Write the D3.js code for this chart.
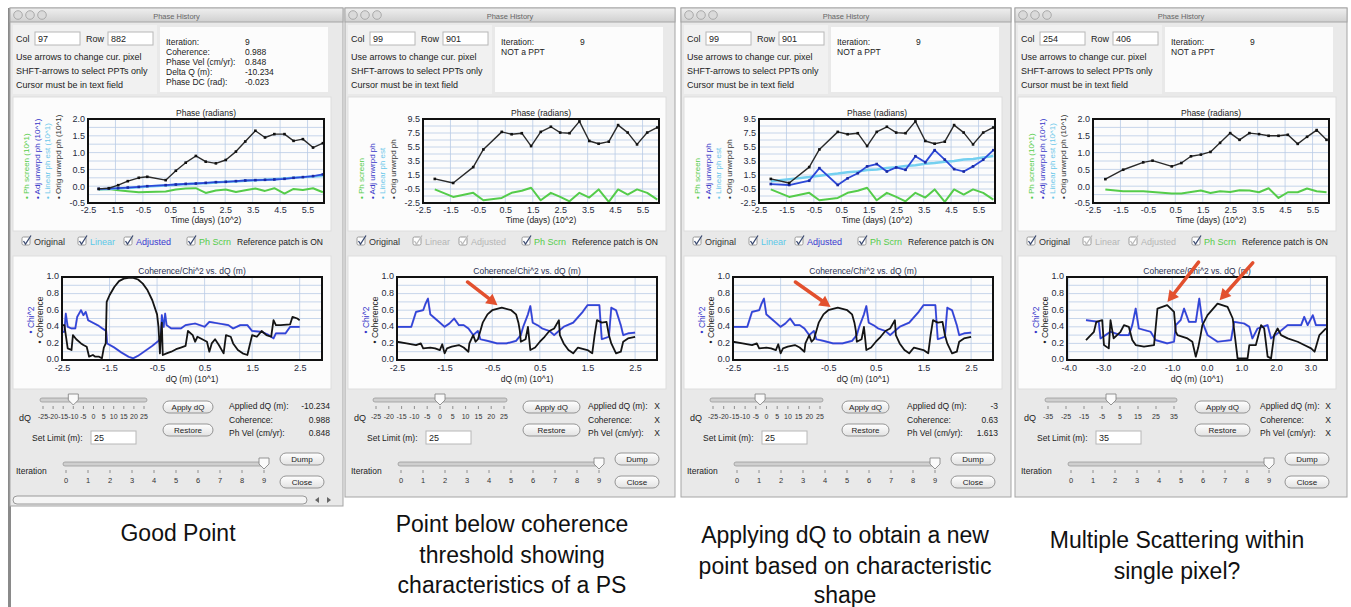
<!DOCTYPE html>
<html><head><meta charset="utf-8">
<script src="https://cdn.jsdelivr.net/npm/d3@7"></script>
<style>body{margin:0;background:#fff;} svg{display:block;} text{font-family:"Liberation Sans",Arial,sans-serif;}</style>
</head><body><svg id="c" width="1351" height="607"></svg>
<script>
// ---------------- DATA ----------------
// Phase history, panel 1 (Col 97 Row 882), time in 10^2 days
const time1 = [-2.11,-1.74,-1.40,-1.05,-0.65,-0.34,0.33,0.70,1.06,1.43,1.79,2.16,2.52,2.89,3.23,3.60,3.95,4.29,4.66,4.99,5.33,5.70,6.06];
const orig1 = [-0.08,-0.06,0.03,0.15,0.25,0.28,0.18,0.46,0.70,0.90,0.73,0.68,0.78,1.03,1.33,1.65,1.45,1.55,1.55,1.35,1.40,1.15,1.28];
const adj1  = [-0.08,-0.07,-0.06,-0.04,-0.02,0.00,0.03,0.05,0.07,0.08,0.10,0.12,0.13,0.15,0.17,0.18,0.19,0.20,0.22,0.25,0.27,0.30,0.35];
const lin1  = [-0.09,-0.08,-0.06,-0.05,-0.03,-0.01,0.02,0.04,0.06,0.08,0.09,0.11,0.13,0.14,0.16,0.18,0.19,0.21,0.23,0.25,0.27,0.29,0.32];
const scrn1 = [-0.10,-0.08,-0.12,-0.15,-0.18,-0.17,-0.16,-0.10,-0.07,-0.06,-0.20,-0.13,-0.10,-0.17,-0.12,-0.07,-0.14,-0.06,-0.22,-0.08,-0.11,-0.06,-0.18];
// Panels 2 and 3 (Col 99 Row 901)
const time2 = [-2.07,-1.40,-0.67,-0.30,0.37,0.73,1.10,1.44,1.79,2.16,2.50,2.84,3.20,3.56,3.90,4.27,4.61,4.96,5.30,5.67,6.04];
const orig2 = [0.94,0.36,2.63,5.15,7.66,7.32,7.47,5.63,7.66,8.39,7.56,7.47,9.16,6.36,5.97,6.26,8.63,7.56,5.87,7.56,8.29];
const scrn2 = [-0.56,-1.63,-1.05,-2.11,-1.77,-1.05,-0.76,-0.32,-2.11,-1.05,-1.63,-2.26,-1.05,-1.72,-0.56,-2.35,-0.56,-1.29,-0.56,-1.05,-2.01];
const adj3  = [0.21,0.07,0.69,2.48,0.07,1.03,1.76,2.73,3.07,2.00,2.58,2.24,4.18,3.31,5.05,3.69,2.34,2.00,2.73,3.69,5.05];
const lin3  = [0.6,0.9,1.2,1.4,1.7,1.9,2.0,2.2,2.3,2.5,2.6,2.8,2.9,3.1,3.2,3.4,3.5,3.7,3.8,4.0,4.2];
// Panel 4 (Col 254 Row 406)
const time4 = [-2.05,-1.40,-0.67,-0.33,0.37,0.72,1.07,1.43,1.78,2.13,2.50,2.84,3.20,3.55,3.90,4.26,4.60,4.96,5.30,5.65,6.01];
const orig4 = [0.21,0.49,0.71,0.76,0.59,0.69,0.89,0.94,1.02,1.29,1.58,1.38,1.58,1.55,1.50,1.50,1.53,1.26,1.47,1.67,1.38];
const scrn4 = [-0.10,-0.15,-0.15,-0.17,-0.22,-0.22,-0.17,-0.13,-0.20,-0.15,-0.17,-0.12,-0.13,-0.18,-0.06,-0.35,-0.18,-0.18,-0.07,-0.15,-0.18];

// Coherence / Chi^2 vs dQ  [dQ (10^1 m), value]
const coh1 = [[-2.5,0.42],[-2.45,0.42],[-2.42,0.3],[-2.38,0.14],[-2.3,0.12],[-2.27,0.3],[-2.2,0.25],[-2.1,0.2],[-2.05,0.18],[-1.98,0.16],[-1.93,0.04],[-1.85,0.06],[-1.8,0.04],[-1.72,0.04],[-1.66,0.02],[-1.62,0.15],[-1.58,0.2],[-1.56,0.7],[-1.5,0.78],[-1.4,0.88],[-1.3,0.95],[-1.2,0.98],[-1.1,0.99],[-1.0,0.99],[-0.9,0.97],[-0.8,0.92],[-0.7,0.84],[-0.6,0.72],[-0.5,0.55],[-0.47,0.4],[-0.44,0.08],[-0.42,0.3],[-0.4,0.45],[-0.38,0.06],[-0.3,0.08],[-0.2,0.1],[-0.1,0.13],[0.0,0.15],[0.1,0.17],[0.15,0.35],[0.25,0.3],[0.3,0.22],[0.35,0.28],[0.45,0.25],[0.55,0.22],[0.6,0.1],[0.65,0.2],[0.72,0.25],[0.8,0.18],[0.9,0.08],[0.95,0.3],[1.05,0.28],[1.1,0.2],[1.2,0.12],[1.3,0.08],[1.4,0.06],[1.45,0.18],[1.5,0.3],[1.6,0.28],[1.7,0.35],[1.8,0.3],[1.9,0.28],[1.95,0.48],[2.0,0.42],[2.1,0.42],[2.3,0.43],[2.35,0.52],[2.45,0.5],[2.5,0.48]];
const chi1 = [[-2.5,0.34],[-2.45,0.34],[-2.42,0.56],[-2.38,0.4],[-2.3,0.38],[-2.22,0.38],[-2.18,0.52],[-2.1,0.6],[-2.05,0.54],[-2.0,0.58],[-1.95,0.48],[-1.85,0.45],[-1.75,0.42],[-1.65,0.38],[-1.57,0.35],[-1.55,0.2],[-1.4,0.15],[-1.25,0.09],[-1.1,0.04],[-1.0,0.02],[-0.9,0.05],[-0.75,0.11],[-0.6,0.17],[-0.47,0.23],[-0.42,0.28],[-0.4,0.54],[-0.36,0.4],[-0.33,0.56],[-0.3,0.42],[-0.2,0.38],[0.0,0.38],[0.1,0.42],[0.3,0.44],[0.5,0.4],[0.6,0.46],[0.8,0.44],[1.0,0.42],[1.1,0.38],[1.25,0.42],[1.4,0.42],[1.5,0.35],[1.7,0.34],[1.85,0.3],[1.95,0.26],[2.0,0.32],[2.2,0.32],[2.3,0.4],[2.5,0.4]];
const coh2 = [[-2.5,0.22],[-2.3,0.2],[-2.1,0.18],[-2.0,0.2],[-1.95,0.14],[-1.8,0.15],[-1.7,0.14],[-1.6,0.12],[-1.55,0.19],[-1.5,0.08],[-1.45,0.14],[-1.35,0.16],[-1.2,0.18],[-1.1,0.15],[-1.0,0.1],[-0.98,0.2],[-0.9,0.3],[-0.85,0.22],[-0.8,0.25],[-0.75,0.35],[-0.7,0.45],[-0.6,0.55],[-0.5,0.6],[-0.3,0.63],[-0.1,0.6],[0.0,0.55],[0.05,0.45],[0.08,0.35],[0.1,0.22],[0.2,0.25],[0.25,0.4],[0.3,0.12],[0.4,0.15],[0.5,0.22],[0.6,0.28],[0.7,0.35],[0.8,0.38],[0.9,0.48],[0.92,0.3],[1.0,0.2],[1.1,0.12],[1.2,0.08],[1.3,0.15],[1.5,0.12],[1.6,0.08],[1.65,0.3],[1.7,0.48],[1.8,0.45],[1.9,0.46],[1.95,0.3],[2.0,0.2],[2.1,0.08],[2.2,0.1],[2.25,0.22],[2.35,0.26],[2.5,0.28]];
const chi2 = [[-2.5,0.4],[-2.2,0.4],[-2.1,0.58],[-1.95,0.6],[-1.9,0.68],[-1.85,0.74],[-1.8,0.55],[-1.7,0.5],[-1.6,0.45],[-1.5,0.4],[-1.4,0.44],[-1.3,0.5],[-1.2,0.42],[-1.1,0.42],[-1.0,0.38],[-0.9,0.3],[-0.8,0.35],[-0.75,0.25],[-0.6,0.23],[-0.4,0.2],[-0.2,0.2],[0.0,0.23],[0.1,0.3],[0.15,0.4],[0.25,0.55],[0.3,0.65],[0.35,0.45],[0.45,0.42],[0.55,0.38],[0.7,0.35],[0.8,0.3],[0.9,0.35],[1.0,0.4],[1.2,0.45],[1.4,0.58],[1.5,0.66],[1.75,0.66],[1.8,0.25],[1.95,0.28],[2.0,0.63],[2.1,0.6],[2.2,0.42],[2.25,0.3],[2.35,0.32],[2.5,0.33]];
const coh4 = [[-3.5,0.24],[-3.27,0.34],[-3.2,0.46],[-3.03,0.48],[-2.98,0.18],[-2.84,0.14],[-2.79,0.48],[-2.7,0.26],[-2.6,0.3],[-2.5,0.34],[-2.4,0.42],[-2.26,0.4],[-2.16,0.24],[-2.06,0.18],[-1.82,0.16],[-1.53,0.18],[-1.43,0.62],[-1.15,0.66],[-0.95,0.58],[-0.9,0.34],[-0.85,0.3],[-0.56,0.26],[-0.42,0.22],[-0.32,0.04],[-0.25,0.15],[-0.18,0.3],[-0.13,0.42],[0.02,0.54],[0.31,0.68],[0.6,0.64],[0.75,0.5],[0.82,0.26],[0.89,0.02],[1.18,0.02],[1.23,0.18],[1.42,0.18],[1.57,0.42],[1.66,0.38],[1.76,0.04],[1.86,0.02],[1.95,0.3],[2.05,0.38],[2.15,0.3],[2.34,0.26],[2.63,0.22],[2.82,0.18],[3.02,0.14],[3.12,0.1],[3.26,0.3],[3.45,0.38]];
const chi4 = [[-3.5,0.48],[-3.13,0.46],[-3.08,0.26],[-2.79,0.34],[-2.5,0.3],[-2.26,0.3],[-2.16,0.42],[-2.06,0.62],[-1.97,0.38],[-1.63,0.34],[-1.48,0.24],[-1.15,0.2],[-0.95,0.22],[-0.9,0.42],[-0.76,0.48],[-0.66,0.62],[-0.52,0.46],[-0.32,0.46],[-0.22,0.74],[-0.13,0.46],[0.02,0.3],[0.31,0.22],[0.7,0.24],[0.79,0.46],[1.08,0.44],[1.23,0.4],[1.32,0.26],[1.47,0.38],[1.76,0.42],[1.86,0.26],[2.05,0.32],[2.34,0.42],[2.73,0.42],[2.82,0.52],[2.92,0.42],[3.07,0.54],[3.16,0.42],[3.45,0.42]];

// Tick labels
const timeTicks = [-2.5,-1.5,-0.5,0.5,1.5,2.5,3.5,4.5,5.5];
const phaseTicksSmall = [-0.5,0.0,0.5,1.0,1.5,2.0];
const phaseTicksLarge = [-2.5,-0.5,1.5,3.5,5.5,7.5,9.5];
const cohTicks = [0.0,0.2,0.4,0.6,0.8,1.0];
const dqTicks25 = [-2.5,-1.5,-0.5,0.5,1.5,2.5];
const dqTicks40 = [-4.0,-3.0,-2.0,-1.0,0.0,1.0,2.0,3.0];
const sliderTicks25 = [-25,-20,-15,-10,-5,0,5,10,15,20,25];
const sliderTicks35 = [-35,-25,-15,-5,5,15,25,35];
const iterTicks = [0,1,2,3,4,5,6,7,8,9];

// ---------------- DRAW ----------------
const svg = d3.select('#c');
const defs = svg.append('defs');
function grad(id, c1, c2){const g=defs.append('linearGradient').attr('id',id).attr('x1',0).attr('y1',0).attr('x2',0).attr('y2',1);
 g.append('stop').attr('offset','0%').attr('stop-color',c1); g.append('stop').attr('offset','100%').attr('stop-color',c2);}
grad('tb','#efefef','#d0d0d0'); grad('btn','#ffffff','#e2e2e2');

const C = {black:'#2a2a2a', blue:'#2c48d8', lblue:'#74d0f0', green:'#55cc4a', pink:'#c77ad6', red:'#e2502e', gray:'#b5b5b5'};
function txt(g,x,y,s,o={}){return g.append('text').attr('x',x).attr('y',y).text(s).attr('font-size',o.size||9)
 .attr('fill',o.fill||'#222').attr('text-anchor',o.anchor||'start').attr('font-weight',o.weight||'normal');}
const fmt1 = d => d.toFixed(1);

const panels = [
 {L:10, W:333, H:498, col:'97', row:'882',
  info:[['Iteration:','9'],['Coherence:','0.988'],['Phase Vel (cm/yr):','0.848'],['Delta Q (m):','-10.234'],['Phase DC (rad):','-0.023']],
  pDom:[-0.5,2.0], pTicks:phaseTicksSmall, suffix:' (10^1)',
  series:[{t:time1,v:scrn1,c:C.green,w:2},{t:time1,v:lin1,c:C.lblue,w:2.5},{t:time1,v:adj1,c:C.blue,w:1.8,dots:1},{t:time1,v:orig1,c:C.black,w:1.4,dots:1}],
  enabled:[1,1,1,1], cDom:[-2.5,2.97], cTicks:dqTicks25, coh:coh1, chi:chi1, arrows:[],
  sl:{x0:30,w:107,ticks:sliderTicks25,val:-10}, btnX:153, btnW:50, iLX:219, iRX:320,
  vals:['-10.234','0.988','0.848'], limit:'25', scroll:true,
  caption:['Good Point'], capX:178, capY:[533]},
 {L:345, W:330, H:489, col:'99', row:'901', info:[['Iteration:','9'],['NOT a PPT','']],
  pDom:[-2.5,9.5], pTicks:phaseTicksLarge, suffix:'',
  series:[{t:time2,v:scrn2,c:C.green,w:2},{t:time2,v:orig2,c:C.black,w:1.4,dots:1}],
  enabled:[1,0,0,1], cDom:[-2.5,2.96], cTicks:dqTicks25, coh:coh2, chi:chi2,
  arrows:[[-1.02,0.94,-0.39,0.66]],
  sl:{x0:28,w:134,ticks:sliderTicks25,val:0}, btnX:178, btnW:57, iLX:243, iRX:315,
  vals:['X','X','X'], limit:'25',
  caption:['Point below coherence','threshold showing','characteristics of a PS'], capX:512, capY:[524,555,585]},
 {L:681, W:330, H:489, col:'99', row:'901', info:[['Iteration:','9'],['NOT a PPT','']],
  pDom:[-2.5,9.5], pTicks:phaseTicksLarge, suffix:'',
  series:[{t:time2,v:scrn2,c:C.green,w:2},{t:time2,v:lin3,c:C.lblue,w:2.5},{t:time2,v:adj3,c:C.blue,w:1.8,dots:1},{t:time2,v:orig2,c:C.black,w:1.4,dots:1}],
  enabled:[1,1,1,1], cDom:[-2.5,2.96], cTicks:dqTicks25, coh:coh2, chi:chi2,
  arrows:[[-1.19,0.94,-0.45,0.64]],
  sl:{x0:29,w:113,ticks:sliderTicks25,val:-3}, btnX:161, btnW:47, iLX:226, iRX:317,
  vals:['-3','0.63','1.613'], limit:'25',
  caption:['Applying dQ to obtain a new','point based on characteristic','shape'], capX:845, capY:[535,566,595]},
 {L:1015, W:332, H:489, col:'254', row:'406', info:[['Iteration:','9'],['NOT a PPT','']],
  pDom:[-0.5,2.0], pTicks:phaseTicksSmall, suffix:' (10^1)',
  series:[{t:time4,v:scrn4,c:C.green,w:2},{t:time4,v:orig4,c:C.black,w:1.4,dots:1}],
  enabled:[1,0,0,1], cDom:[-4.05,3.48], cTicks:dqTicks40, coh:coh4, chi:chi4,
  arrows:[[-0.24,1.18,-1.14,0.70],[1.33,1.17,0.37,0.72]],
  sl:{x0:30,w:132,ticks:sliderTicks35,val:0}, btnX:180, btnW:55, iLX:245, iRX:316,
  vals:['X','X','X'], limit:'35',
  caption:['Multiple Scattering within','single pixel?'], capX:1177, capY:[540,571]}
];

// left dark edge
svg.append('rect').attr('x',8).attr('y',8).attr('width',3).attr('height',599).attr('fill','#8a8a8a');

function midGrid(t){const g=[];t.forEach((v,i)=>{g.push(v);if(i<t.length-1)g.push((v+t[i+1])/2);});return g;}

function button(g,x,y,w,h,label){
 g.append('rect').attr('x',x).attr('y',y).attr('width',w).attr('height',h).attr('rx',6).attr('fill','url(#btn)').attr('stroke','#8a8a8a').attr('stroke-width',0.9);
 txt(g,x+w/2,y+h/2+3,label,{anchor:'middle',size:8});
}
function inputBox(g,x,y,w,h,val){
 g.append('rect').attr('x',x).attr('y',y).attr('width',w).attr('height',h).attr('fill','#fff').attr('stroke','#b8b8b8');
 txt(g,x+3,y+h-3.5,val);
}
function slider(g,x0,w,y,ticks,val,labelSize){
 g.append('rect').attr('x',x0).attr('y',y-2).attr('width',w).attr('height',4).attr('rx',2).attr('fill','#cfcfcf').attr('stroke','#9a9a9a').attr('stroke-width',0.8);
 const s=d3.scaleLinear().domain([ticks[0],ticks[ticks.length-1]]).range([x0+3,x0+w-3]);
 g.selectAll(null).data(ticks).join('line').attr('x1',d=>s(d)).attr('x2',d=>s(d)).attr('y1',y+6).attr('y2',y+9).attr('stroke','#777').attr('stroke-width',0.8);
 g.selectAll(null).data(ticks).join('text').attr('x',d=>s(d)).attr('y',y+19).attr('text-anchor','middle').attr('font-size',labelSize).attr('fill','#333').text(d=>d);
 const cx=s(val);
 g.append('path').attr('d',`M${cx-5},${y-6}h10v6l-5,5l-5,-5z`).attr('fill','#fafafa').attr('stroke','#888').attr('stroke-width',0.9);
}
function checkbox(g,x,y,label,color){
 g.append('rect').attr('x',x).attr('y',y).attr('width',8).attr('height',8).attr('rx',1.5).attr('fill','#fff').attr('stroke','#9a9a9a');
 g.append('path').attr('d',`M${x+1.5},${y+4}L${x+3.5},${y+7}L${x+9},${y-1.5}`).attr('fill','none').attr('stroke', color===C.gray?'#bbb':'#3a4a70').attr('stroke-width',1.3);
 txt(g,x+12,y+8,label,{fill:color});
}

panels.forEach((p,idx)=>{
 const L=p.L, g=svg.append('g');
 // window
 g.append('rect').attr('x',L).attr('y',8).attr('width',p.W).attr('height',p.H).attr('fill','#e9e9e9').attr('stroke','#a5a5a5');
 g.append('rect').attr('x',L).attr('y',8).attr('width',p.W).attr('height',14).attr('fill','url(#tb)').attr('stroke','#a5a5a5');
 [8,20,32].forEach(dx=>g.append('circle').attr('cx',L+dx).attr('cy',15).attr('r',4.3).attr('fill','#dadada').attr('stroke','#9d9d9d').attr('stroke-width',0.8));
 txt(g,L+p.W/2,18.5,'Phase History',{anchor:'middle',size:7.5,fill:'#666'});
 // top area
 g.append('rect').attr('x',L+3).attr('y',25).attr('width',144).attr('height',69).attr('fill','#f1f1f1');
 txt(g,L+6,42,'Col'); inputBox(g,L+25,32,45,13,p.col);
 txt(g,L+76,42,'Row'); inputBox(g,L+98,32,45,13,p.row);
 txt(g,L+6,60,'Use arrows to change cur. pixel');
 txt(g,L+6,74,'SHFT-arrows to select PPTs only');
 txt(g,L+6,88,'Cursor must be in text field');
 g.append('rect').attr('x',L+150).attr('y',27).attr('width',168).attr('height',65).attr('fill','#fcfcfc');
 p.info.forEach((r,i)=>{txt(g,L+156,45+i*10,r[0],{size:8.5}); txt(g,L+235,45+i*10,r[1],{size:8.5});});

 // ---- phase chart
 g.append('rect').attr('x',L+3).attr('y',97).attr('width',318).attr('height',134).attr('fill','#fcfcfc').attr('stroke','#dedede');
 const px0=L+78, px1=L+314, py0=119, py1=203;
 const x=d3.scaleLinear().domain([-2.5,6.1]).range([px0,px1]);
 const y=d3.scaleLinear().domain(p.pDom).range([py1,py0]);
 g.selectAll(null).data(midGrid(p.pTicks)).join('line').attr('x1',px0).attr('x2',px1).attr('y1',d=>y(d)).attr('y2',d=>y(d)).attr('stroke','#b9cbe6').attr('stroke-width',0.8);
 g.selectAll(null).data(timeTicks).join('line').attr('x1',d=>x(d)).attr('x2',d=>x(d)).attr('y1',py0).attr('y2',py1).attr('stroke','#b9cbe6').attr('stroke-width',0.8);
 defs.append('clipPath').attr('id','pc'+idx).append('rect').attr('x',px0).attr('y',py0).attr('width',px1-px0).attr('height',py1-py0);
 const pg=g.append('g').attr('clip-path',`url(#pc${idx})`);
 const ln=d3.line().x(d=>x(d[0])).y(d=>y(d[1]));
 p.series.forEach(s=>{
  const pts=d3.zip(s.t,s.v);
  pg.append('path').attr('d',ln(pts)).attr('fill','none').attr('stroke',s.c).attr('stroke-width',s.w).attr('stroke-linejoin','round');
  if(s.dots) pg.selectAll(null).data(pts).join('rect').attr('x',d=>x(d[0])-1.3).attr('y',d=>y(d[1])-1.3).attr('width',2.6).attr('height',2.6).attr('fill',s.c===C.black?'#111':'#1a2aa0');
 });
 g.append('rect').attr('x',px0).attr('y',py0).attr('width',px1-px0).attr('height',py1-py0).attr('fill','none').attr('stroke','#111').attr('stroke-width',2);
 const xa=g.append('g').attr('transform',`translate(0,${py1})`).call(d3.axisBottom(x).tickValues(timeTicks).tickSize(0).tickPadding(4).tickFormat(fmt1));
 const ya=g.append('g').attr('transform',`translate(${px0},0)`).call(d3.axisLeft(y).tickValues(p.pTicks).tickSize(0).tickPadding(3).tickFormat(fmt1));
 [xa,ya].forEach(a=>{a.select('.domain').remove(); a.attr('font-size',9).attr('font-family','Liberation Sans, Arial, sans-serif'); a.selectAll('text').attr('fill','#262a40');});
 txt(g,(px0+px1)/2,116,'Phase (radians)',{anchor:'middle',size:8.5});
 txt(g,(px0+px1)/2,223,'Time (days) (10^2)',{anchor:'middle',size:8.5});
 const legs=[['• Ph screen',C.green],['• Adj unwrpd ph','#3535c8'],['• Linear ph est','#6cc8ea'],['• Orig unwrpd ph','#333']];
 legs.forEach((l,i)=>{
  const lx=L+19+i*10.5;
  g.append('text').attr('transform',`translate(${lx},199) rotate(-90)`).attr('font-size',8).attr('fill',l[1]).text(l[0]+p.suffix);
 });

 // ---- checkbox row
 const en=p.enabled;
 checkbox(g,L+12,237,'Original','#333');
 checkbox(g,L+68,237,'Linear',en[1]?'#5cc8e8':C.gray);
 checkbox(g,L+114,237,'Adjusted',en[2]?'#3a3ad0':C.gray);
 checkbox(g,L+177,237,'Ph Scrn',en[3]?'#55cc4a':C.gray);
 txt(g,L+227,245,'Reference patch is ON',{size:8.5});

 // ---- coherence chart
 g.append('rect').attr('x',L+3).attr('y',256).attr('width',318).attr('height',133).attr('fill','#fcfcfc').attr('stroke','#dedede');
 const cx0=L+52, cx1=L+312, cy0=277, cy1=360;
 const cxs=d3.scaleLinear().domain(p.cDom).range([cx0,cx1]);
 const cys=d3.scaleLinear().domain([0,1]).range([cy1,cy0]);
 g.selectAll(null).data(midGrid(cohTicks)).join('line').attr('x1',cx0).attr('x2',cx1).attr('y1',d=>cys(d)).attr('y2',d=>cys(d)).attr('stroke','#b9cbe6').attr('stroke-width',0.8);
 g.selectAll(null).data(p.cTicks).join('line').attr('x1',d=>cxs(d)).attr('x2',d=>cxs(d)).attr('y1',cy0).attr('y2',cy1).attr('stroke','#b9cbe6').attr('stroke-width',0.8);
 defs.append('clipPath').attr('id','cc'+idx).append('rect').attr('x',cx0).attr('y',cy0).attr('width',cx1-cx0).attr('height',cy1-cy0);
 const cg=g.append('g').attr('clip-path',`url(#cc${idx})`);
 const cl=d3.line().x(d=>cxs(d[0])).y(d=>cys(d[1]));
 cg.append('path').attr('d',cl(p.chi)).attr('fill','none').attr('stroke',C.pink).attr('stroke-width',2.2).attr('stroke-opacity',0.55).attr('stroke-linejoin','round');
 cg.append('path').attr('d',cl(p.chi)).attr('fill','none').attr('stroke',C.blue).attr('stroke-width',1.7).attr('stroke-linejoin','round');
 cg.append('path').attr('d',cl(p.coh)).attr('fill','none').attr('stroke','#141414').attr('stroke-width',1.8).attr('stroke-linejoin','round');
 g.append('rect').attr('x',cx0).attr('y',cy0).attr('width',cx1-cx0).attr('height',cy1-cy0).attr('fill','none').attr('stroke','#111').attr('stroke-width',2);
 const cxa=g.append('g').attr('transform',`translate(0,${cy1})`).call(d3.axisBottom(cxs).tickValues(p.cTicks).tickSize(0).tickPadding(5).tickFormat(fmt1));
 const cya=g.append('g').attr('transform',`translate(${cx0},0)`).call(d3.axisLeft(cys).tickValues(cohTicks).tickSize(0).tickPadding(3).tickFormat(fmt1));
 [cxa,cya].forEach(a=>{a.select('.domain').remove(); a.attr('font-size',9).attr('font-family','Liberation Sans, Arial, sans-serif'); a.selectAll('text').attr('fill','#262a40');});
 cya.selectAll('text').attr('dy','0.2em');
 txt(g,(cx0+cx1)/2,274,'Coherence/Chi^2 vs. dQ (m)',{anchor:'middle',size:8.5,fill:'#2a3050'});
 txt(g,(cx0+cx1)/2,382,'dQ (m) (10^1)',{anchor:'middle',size:8.5});
 g.append('text').attr('transform',`translate(${L+24},320) rotate(-90)`).attr('text-anchor','middle').attr('font-size',8.5).attr('fill','#3535c8').text('• Chi^2');
 g.append('text').attr('transform',`translate(${L+33},320) rotate(-90)`).attr('text-anchor','middle').attr('font-size',8.5).attr('fill','#222').text('• Coherence');
 // arrows
 p.arrows.forEach(a=>{
  const x1=cxs(a[0]), y1=cys(a[1]), x2=cxs(a[2]), y2=cys(a[3]);
  const ang=Math.atan2(y2-y1,x2-x1), hl=11, hw=6;
  const bx=x2-hl*Math.cos(ang), by=y2-hl*Math.sin(ang);
  g.append('line').attr('x1',x1).attr('y1',y1).attr('x2',bx).attr('y2',by).attr('stroke',C.red).attr('stroke-width',3.5).attr('stroke-linecap','round');
  const nx=-Math.sin(ang)*hw, ny=Math.cos(ang)*hw;
  g.append('path').attr('d',`M${x2},${y2}L${bx+nx},${by+ny}L${bx-nx},${by-ny}Z`).attr('fill',C.red);
 });

 // ---- controls
 slider(g,L+p.sl.x0,p.sl.w,400,p.sl.ticks,p.sl.val,7);
 txt(g,L+9,421,'dQ');
 button(g,L+p.btnX,401,p.btnW,12,'Apply dQ');
 button(g,L+p.btnX,424,p.btnW,12,'Restore');
 ['Applied dQ (m):','Coherence:','Ph Vel (cm/yr):'].forEach((s,i)=>{txt(g,L+p.iLX,409+i*13.5,s,{size:8.5}); txt(g,L+p.iRX,409+i*13.5,p.vals[i],{anchor:'end',size:8.5});});
 txt(g,L+22,441,'Set Limit (m):',{size:8.5}); inputBox(g,L+81,431,45,13,p.limit);
 txt(g,L+6,474,'Iteration',{size:8.5});
 slider(g,L+53,204,464,iterTicks,9,7.5);
 button(g,L+270,453,44,12,'Dump');
 button(g,L+270,476,44,12,'Close');
 if(p.scroll){
  g.append('rect').attr('x',L+3).attr('y',496).attr('width',294).attr('height',8).attr('rx',4).attr('fill','#f5f5f5').attr('stroke','#999');
  g.append('path').attr('d',`M${L+305},500l4,-3v6z M${L+317},497l4,3l-4,3z`).attr('fill','#666');
 }
 // caption
 p.caption.forEach((s,i)=>svg.append('text').attr('x',p.capX).attr('y',p.capY[i]+7.5).attr('text-anchor','middle')
   .attr('font-family','Lato, "Open Sans", sans-serif').attr('font-size',23).attr('fill','#111').text(s));
});
</script></body></html>
